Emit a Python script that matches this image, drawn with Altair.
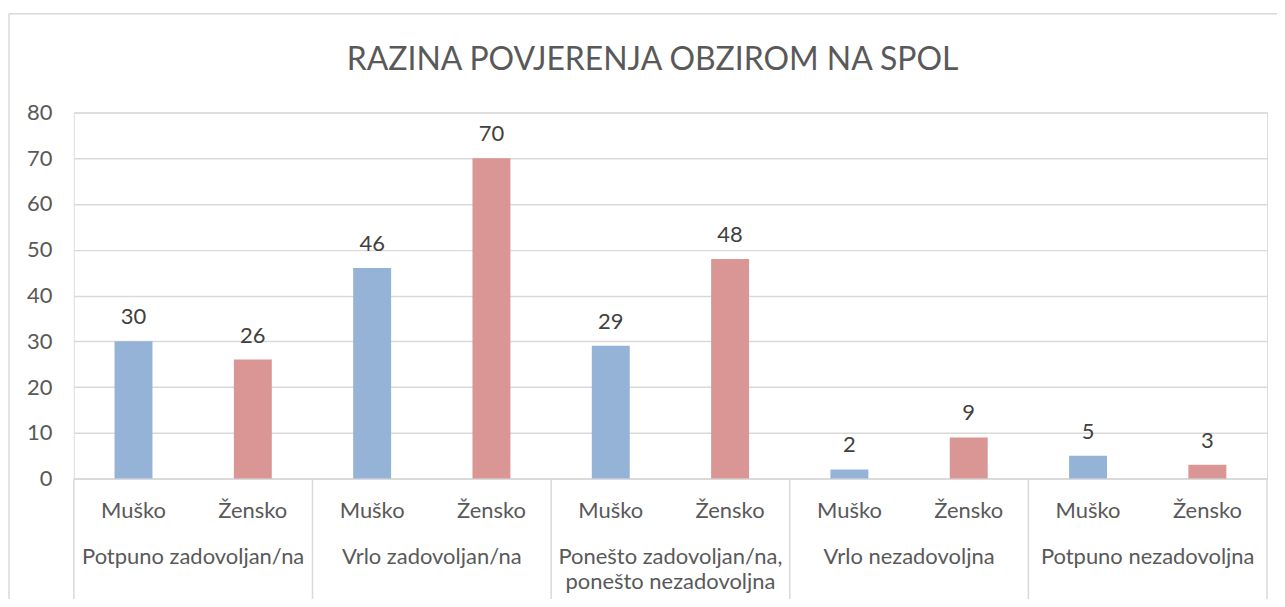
import altair as alt
import pandas as pd

title_text = "RAZINA POVJERENJA OBZIROM NA SPOL"
groups = [
    "Potpuno zadovoljan/na",
    "Vrlo zadovoljan/na",
    "Ponešto zadovoljan/na,\nponešto nezadovoljna",
    "Vrlo nezadovoljna",
    "Potpuno nezadovoljna",
]
sexes = ["Muško", "Žensko"]
musko = [30, 46, 29, 2, 5]
zensko = [26, 70, 48, 9, 3]
y_ticks = [0, 10, 20, 30, 40, 50, 60, 70, 80]

W, H = 1196, 367
STEP = W / (len(groups) * len(sexes))
FONT = "Lato"
FS = 22
GREY = "#595959"
LINE = "#D9D9D9"

rows = []
for i, g in enumerate(groups):
    for s, v in zip(sexes, [musko[i], zensko[i]]):
        rows.append({"key": f"{i}|{s}", "group": g, "sex": s, "value": v})
df = pd.DataFrame(rows)
keys = list(df["key"])

grp_df = pd.DataFrame({"group": groups, "key": [f"{i}|{sexes[0]}" for i in range(len(groups))]})
last_df = pd.DataFrame({"key": [f"{len(groups)-1}|{sexes[1]}"]})

xscale = alt.Scale(domain=keys, paddingInner=0.682, paddingOuter=0.341)
x_enc = alt.X(
    "key:N", scale=xscale, sort=keys,
    axis=alt.Axis(title=None, labelExpr="split(datum.value, '|')[1]", labelAngle=0,
                  ticks=False, domain=True, domainColor=LINE, domainWidth=1.5,
                  labelFont=FONT, labelFontSize=FS, labelColor=GREY,
                  labelBaseline="alphabetic", labelPadding=39, grid=False),
)
y_enc = alt.Y(
    "value:Q", scale=alt.Scale(domain=[0, 80], nice=False),
    axis=alt.Axis(title=None, values=y_ticks, domain=False, ticks=False,
                  gridColor=LINE, gridWidth=1.5, labelFont=FONT, labelFontSize=FS,
                  labelColor=GREY, labelPadding=22),
)

base = alt.Chart(df)
bars = base.mark_bar().encode(
    x=x_enc, y=y_enc,
    color=alt.Color("sex:N", scale=alt.Scale(domain=sexes, range=["#95B3D7", "#D99694"]), legend=None),
)
labels = base.mark_text(font=FONT, fontSize=FS, color="#404040", baseline="alphabetic", dy=-17).encode(
    x=alt.X("key:N", scale=xscale, sort=keys), y=alt.Y("value:Q"), text="value:Q"
)
group_labels = alt.Chart(grp_df).mark_text(
    font=FONT, fontSize=FS, color=GREY, baseline="alphabetic", lineBreak="\n",
    lineHeight=25, xOffset=STEP / 2,
).encode(x=alt.X("key:N", scale=xscale, sort=keys), y=alt.value(H + 86), text="group:N")

sep_left = alt.Chart(grp_df).mark_rule(color=LINE, strokeWidth=1.5, xOffset=-STEP / 2).encode(
    x=alt.X("key:N", scale=xscale, sort=keys), y=alt.value(H), y2=alt.value(H + 130)
)
sep_right = alt.Chart(last_df).mark_rule(color=LINE, strokeWidth=1.5, xOffset=STEP / 2).encode(
    x=alt.X("key:N", scale=xscale, sort=keys), y=alt.value(H), y2=alt.value(H + 130)
)

one = alt.Data(values=[{"t": title_text}])
title = alt.Chart(one).mark_text(font=FONT, fontSize=32, color=GREY, baseline="alphabetic", align="center").encode(
    x=alt.value(580), y=alt.value(-43), text="t:N"
)
border_top = alt.Chart(one).mark_rule(color=LINE, strokeWidth=1.5).encode(
    x=alt.value(-65), x2=alt.value(1300), y=alt.value(-99)
)
border_left = alt.Chart(one).mark_rule(color=LINE, strokeWidth=1.5).encode(
    x=alt.value(-65), y=alt.value(-99), y2=alt.value(H + 200)
)

chart = alt.layer(
    bars, labels, group_labels, sep_left, sep_right, title, border_top, border_left
).properties(
    width=W, height=H,
    padding={"left": 66, "top": 104, "right": 10, "bottom": 120},
    autosize=alt.AutoSizeParams(type="none"),
).configure_view(strokeWidth=0).configure(background="white")

chart.save("out.html", embed_options={"renderer": "svg", "actions": False})
